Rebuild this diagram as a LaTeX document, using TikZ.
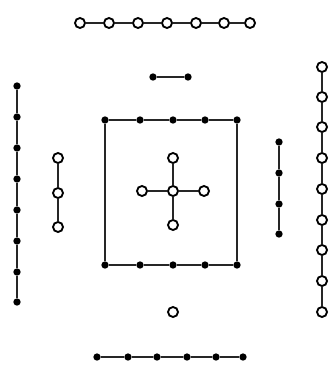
\documentclass[tikz,border=0pt]{standalone}
\begin{document}
\begin{tikzpicture}[x=0.03cm, y=-0.03cm,
  open/.style={shape=circle, draw=black, line width=1.6pt, fill=white, inner sep=0pt, minimum size=0.3cm},
  dot/.style={shape=circle, fill=black, inner sep=0pt, minimum size=0.22cm},
  link/.style={-, line width=1.5pt, draw=black!85}]
\useasboundingbox (0,0) rectangle (331,367);
% top row
\node[open] (t1) at (80,23) {};
\node[open] (t2) at (109,23) {};
\node[open] (t3) at (138,23) {};
\node[open] (t4) at (167,23) {};
\node[open] (t5) at (196,23) {};
\node[open] (t6) at (224,23) {};
\node[open] (t7) at (250,23) {};
% short bar
\node[dot] (b1) at (153,77) {};
\node[dot] (b2) at (188,77) {};
% left column
\node[dot] (l1) at (17,86) {};
\node[dot] (l2) at (17,117) {};
\node[dot] (l3) at (17,148) {};
\node[dot] (l4) at (17,179) {};
\node[dot] (l5) at (17,210) {};
\node[dot] (l6) at (17,241) {};
\node[dot] (l7) at (17,272) {};
\node[dot] (l8) at (17,302) {};
% open column
\node[open] (c1) at (58,158) {};
\node[open] (c2) at (58,193) {};
\node[open] (c3) at (58,227) {};
% square
\node[dot] (s1) at (105,120) {};
\node[dot] (s2) at (140,120) {};
\node[dot] (s3) at (173,120) {};
\node[dot] (s4) at (205,120) {};
\node[dot] (s5) at (237,120) {};
\node[dot] (s6) at (105,265) {};
\node[dot] (s7) at (140,265) {};
\node[dot] (s8) at (173,265) {};
\node[dot] (s9) at (205,265) {};
\node[dot] (s10) at (237,265) {};
% cross
\node[open] (x0) at (173,191) {};
\node[open] (x1) at (173,158) {};
\node[open] (x2) at (142,191) {};
\node[open] (x3) at (204,191) {};
\node[open] (x4) at (173,225) {};
% right inner column
\node[dot] (r1) at (279,142) {};
\node[dot] (r2) at (279,173) {};
\node[dot] (r3) at (279,204) {};
\node[dot] (r4) at (279,234) {};
% right open column
\node[open] (v1) at (322,67) {};
\node[open] (v2) at (322,97) {};
\node[open] (v3) at (322,127) {};
\node[open] (v4) at (322,158) {};
\node[open] (v5) at (322,189) {};
\node[open] (v6) at (322,220) {};
\node[open] (v7) at (322,250) {};
\node[open] (v8) at (322,281) {};
\node[open] (v9) at (322,312) {};
% bottom
\node[open] (o) at (173,312) {};
\node[dot] (u1) at (97,357) {};
\node[dot] (u2) at (128,357) {};
\node[dot] (u3) at (157,357) {};
\node[dot] (u4) at (187,357) {};
\node[dot] (u5) at (216,357) {};
\node[dot] (u6) at (243,357) {};
\path [link] (t1) edge (t2);
\path [link] (t2) edge (t3);
\path [link] (t3) edge (t4);
\path [link] (t4) edge (t5);
\path [link] (t5) edge (t6);
\path [link] (t6) edge (t7);
\path [link] (b1) edge (b2);
\path [link] (l1) edge (l2);
\path [link] (l2) edge (l3);
\path [link] (l3) edge (l4);
\path [link] (l4) edge (l5);
\path [link] (l5) edge (l6);
\path [link] (l6) edge (l7);
\path [link] (l7) edge (l8);
\path [link] (c1) edge (c2);
\path [link] (c2) edge (c3);
\path [link] (s1) edge (s2);
\path [link] (s2) edge (s3);
\path [link] (s3) edge (s4);
\path [link] (s4) edge (s5);
\path [link] (s6) edge (s7);
\path [link] (s7) edge (s8);
\path [link] (s8) edge (s9);
\path [link] (s9) edge (s10);
\path [link, line width=1.1pt] (s1) edge (s6);
\path [link, line width=1.1pt] (s5) edge (s10);
\path [link] (x0) edge (x1);
\path [link] (x0) edge (x2);
\path [link] (x0) edge (x3);
\path [link] (x0) edge (x4);
\path [link] (r1) edge (r2);
\path [link] (r2) edge (r3);
\path [link] (r3) edge (r4);
\path [link] (v1) edge (v2);
\path [link] (v2) edge (v3);
\path [link] (v3) edge (v4);
\path [link] (v4) edge (v5);
\path [link] (v5) edge (v6);
\path [link] (v6) edge (v7);
\path [link] (v7) edge (v8);
\path [link] (v8) edge (v9);
\path [link] (u1) edge (u2);
\path [link] (u2) edge (u3);
\path [link] (u3) edge (u4);
\path [link] (u4) edge (u5);
\path [link] (u5) edge (u6);
\end{tikzpicture}
\end{document}
